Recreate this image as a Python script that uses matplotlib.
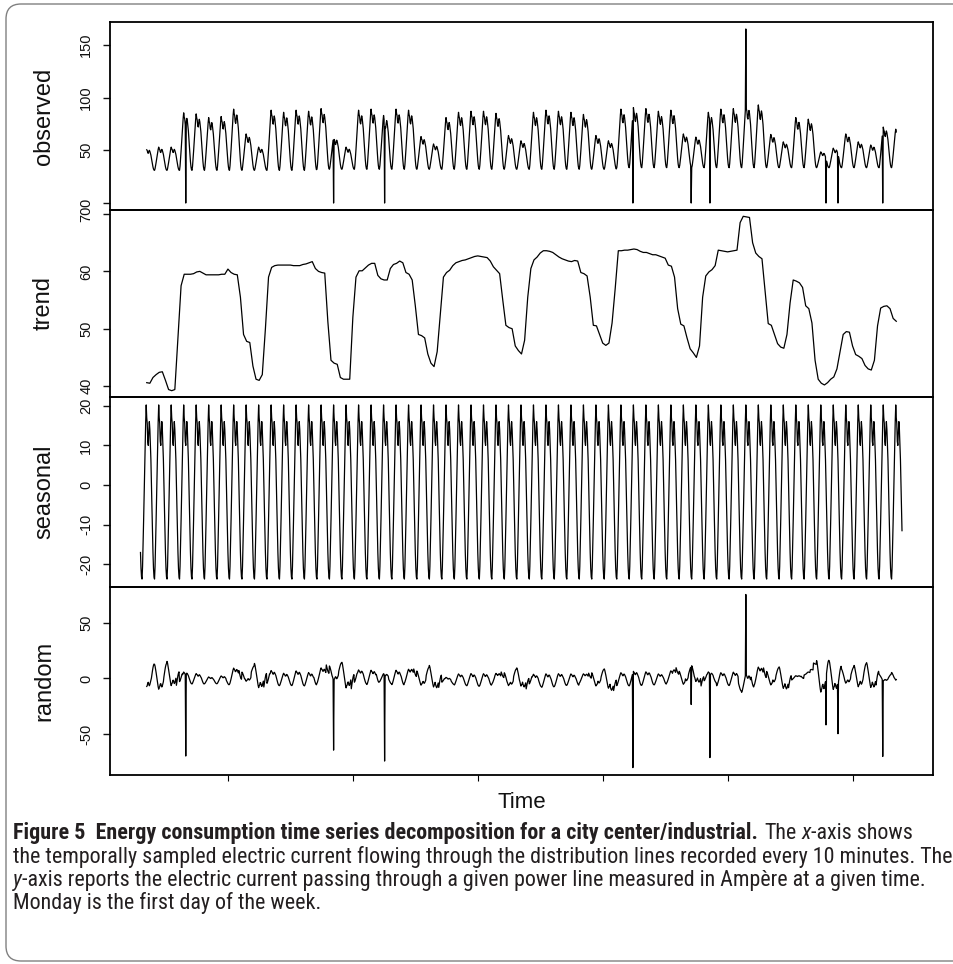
import numpy as np
import matplotlib
matplotlib.use("Agg")
import matplotlib.pyplot as plt
from matplotlib.patches import FancyBboxPatch
from matplotlib.transforms import IdentityTransform
from matplotlib import font_manager as fm

# ------------------------------------------------------------------ data
start_day = 3.0          # first time stamp (days)
n_days = 61              # length of the series in days
per_day = 24             # samples per day used here (hourly)

# daily seasonal profile (hour 0 .. 23)
seasonal_profile = [-17.0, -21.0, -23.2, -23.7, -20.5, -15.0, -9.0, -2.5,
                    4.5, 10.5, 16.0, 20.2, 17.0, 15.5, 11.0, 10.0,
                    13.5, 16.0, 14.0, 10.0, 6.5, 1.0, -5.5, -11.5]

# observed: daily minimum / maximum (day 0 .. 60)
obs_daily_low = [31, 31, 31, 31, 31, 31, 31, 31, 31, 31,
                 31, 31, 31, 31, 32, 32, 32, 32, 32, 32,
                 32, 32, 32, 32, 32, 32, 32, 32, 32, 32,
                 32, 32, 32, 32, 32, 32, 32, 32, 33.5, 33.5,
                 33.5, 33.5, 33.5, 33.5, 33.5, 33.5, 33.5, 33.5, 33.5, 33.5,
                 33.5, 33.5, 33.5, 33.5, 33.5, 33.5, 33.5, 33.5, 33.5, 33.5,
                 33.5]
obs_daily_high = [52, 53, 53, 85.5, 84.5, 81, 82, 89, 65.5, 53,
                  88, 86, 88, 87, 89.5, 62.5, 53, 88, 89, 83,
                  89, 88, 63, 56, 81, 86, 87, 87, 85, 64,
                  59, 86, 88, 87, 86, 84, 64, 59, 89, 90.5,
                  89.5, 87, 88, 65.5, 62.5, 86, 89, 89.5, 93.5, 93,
                  65, 58, 81, 79.5, 48.5, 52, 65.5, 58, 55, 72,
                  70]

# isolated outliers in the observed series (time in days, value)
spike_times = [6.62, 18.46, 22.56, 42.42, 47.10, 48.60, 51.46, 57.86, 58.83, 62.43]
spike_values = [0, 0, 0, 0, 0, 0, 165, 0, 0, 0]

# trend read every 6 hours from t = 3.5
trend_start = 3.5
trend_step = 0.25
trend_values = [
    40.6, 40.5,
    41.5, 42.0, 42.4, 42.5,
    41.0, 39.4, 39.2, 39.4,
    48.5, 57.5, 59.5, 59.5,
    59.5, 59.6, 59.9, 60.0,
    59.7, 59.4, 59.4, 59.4,
    59.4, 59.4, 59.5, 59.5,
    60.4, 59.8, 59.5, 59.4,
    55.5, 49.0, 47.8, 47.6,
    43.5, 41.2, 41.0, 42.0,
    50.0, 59.0, 60.7, 61.0,
    61.1, 61.1, 61.1, 61.1,
    61.1, 61.0, 61.0, 61.0,
    61.2, 61.3, 61.5, 61.7,
    60.5, 60.0, 59.8, 59.7,
    51.2, 44.5, 44.0, 43.8,
    41.5, 41.2, 41.2, 41.2,
    52.0, 59.0, 60.1, 60.1,
    60.6, 61.1, 61.4, 61.4,
    59.3, 58.7, 58.5, 58.5,
    60.5, 61.2, 61.4, 61.8,
    61.5, 59.8, 59.5, 58.5,
    54.0, 49.0, 48.8, 48.4,
    45.6, 44.0, 43.4, 46.0,
    52.5, 59.0, 59.8, 60.2,
    61.0, 61.5, 61.7, 61.9,
    62.0, 62.2, 62.4, 62.6,
    62.7, 62.6, 62.5, 62.4,
    61.8, 60.8, 60.2, 59.6,
    55.0, 50.6, 50.2, 50.0,
    47.0, 46.2, 45.6, 48.0,
    55.5, 60.5, 62.0, 62.5,
    63.2, 63.6, 63.6, 63.5,
    63.3, 62.9, 62.5, 62.2,
    62.0, 61.8, 61.7, 61.9,
    61.8, 59.8, 59.6, 59.2,
    55.5, 50.6, 50.5, 49.0,
    47.5, 47.1, 47.5, 51.0,
    57.0, 63.6, 63.6, 63.7,
    63.7, 63.8, 63.9, 63.8,
    63.5, 63.3, 63.3, 63.1,
    62.9, 62.9, 62.7, 62.5,
    62.3, 61.1, 60.9, 59.0,
    53.5, 50.8, 50.5, 48.4,
    46.5, 45.8, 45.0, 47.0,
    55.5, 59.2, 59.9, 60.3,
    61.0, 63.7, 63.6, 63.5,
    63.4, 63.5, 63.6, 63.7,
    68.5, 69.6, 69.5, 69.4,
    65.0, 63.2, 62.6, 62.2,
    56.5, 50.9, 50.6, 49.0,
    47.4, 46.8, 46.6, 49.0,
    54.5, 58.5, 58.3, 58.0,
    57.2, 54.0, 53.5, 51.0,
    44.5, 41.2, 40.5, 40.2,
    40.6, 41.2, 41.6, 43.0,
    46.0, 49.0, 49.5, 49.4,
    47.0, 45.5, 45.2, 44.8,
    43.6, 43.0, 42.8, 44.5,
    50.5, 53.6, 53.9, 54.0,
    53.5, 51.8, 51.3,
]

panel_names = ["observed", "trend", "seasonal", "random"]
panel_yticks = [[0, 50, 100, 150], [40, 50, 60, 70],
                [-20, -10, 0, 10, 20], [-50, 0, 50]]
panel_ylims = [(-6.6, 171.6), (38.1, 70.7), (-25.7, 22.2), (-86.5, 82.0)]
x_ticks = [10, 20, 30, 40, 50, 60]

caption_bold = "Figure 5  Energy consumption time series decomposition for a city center/industrial."
caption_l1_rest = ["The", "x", "-axis shows"]
caption_l2 = ("the temporally sampled electric current flowing through the distribution "
              "lines recorded every 10 minutes. The")
caption_l3 = ["y", "-axis reports the electric current passing through a given power line "
                   "measured in Ampère at a given time."]
caption_l4 = "Monday is the first day of the week."

# ------------------------------------------------------------ build series
n = n_days * per_day
k = np.arange(n)
t = start_day + k / per_day
prof = np.array(seasonal_profile)
seasonal = prof[k % per_day]
shape = (seasonal - prof.min()) / (prof.max() - prof.min())
lows = np.array(obs_daily_low, dtype=float)
highs = np.array(obs_daily_high, dtype=float)
day_idx = np.clip((k - int(np.argmin(prof))) // per_day, 0, n_days - 1)
observed = lows[day_idx] + (highs[day_idx] - lows[day_idx]) * shape
for ts, v in zip(spike_times, spike_values):
    observed[int(round((ts - start_day) * per_day))] = v

tr = np.array(trend_values)
trend_t = trend_start + trend_step * np.arange(len(tr))
step = int(round(trend_step * per_day))
k0 = int(round((trend_start - start_day) * per_day))
k1 = k0 + (len(tr) - 1) * step
seg = np.arange(k0, k1 + 1)
trend_hold = tr[np.clip((seg - k0 + step // 2) // step, 0, len(tr) - 1)]
random_c = observed[seg] - trend_hold - seasonal[seg]

# ------------------------------------------------------------------ figure
W, H = 954, 964
plt.rcParams["font.family"] = ["Liberation Sans", "DejaVu Sans"]
fig = plt.figure(figsize=(W / 100, H / 100), dpi=100)


def px_rect(x0, y0, x1, y1):
    return [x0 / W, 1 - y1 / H, (x1 - x0) / W, (y1 - y0) / H]


tops = [22, 210, 397, 587, 775]
axes = [fig.add_axes(px_rect(110, tops[i], 933, tops[i + 1])) for i in range(4)]
series = [(t[seg], observed[seg]), (trend_t, tr), (t, seasonal), (t[seg], random_c)]
xlim = (start_day - 0.04 * n_days, start_day + n_days + 0.04 * n_days)

for i, ax in enumerate(axes):
    xs, ys = series[i]
    ax.plot(xs, ys, color="black", lw=0.9)
    ax.set_xlim(*xlim)
    ax.set_ylim(*panel_ylims[i])
    ax.set_yticks(panel_yticks[i], labels=[str(v) for v in panel_yticks[i]],
                  rotation=90, va="center", fontsize=10.5)
    ax.tick_params(axis="y", direction="out", length=5, width=1, pad=7, colors="#111111")
    for sp in ax.spines.values():
        sp.set_linewidth(1.3)
        sp.set_color("black")
    ax.set_facecolor("none")
    if i < 3:
        ax.set_xticks([])
    else:
        ax.set_xticks(x_ticks, labels=[])
        ax.tick_params(axis="x", direction="out", length=4, width=0.8)
    yc = (tops[i] + tops[i + 1]) / 2
    fig.text(44 / W, 1 - yc / H, panel_names[i], rotation=90, ha="center",
             va="center", fontsize=17, color="#111111")

fig.text(521.5 / W, 1 - 803 / H, "Time", ha="center", va="center", fontsize=16,
         color="#111111")

# border of the figure box
border = FancyBboxPatch((6, H - 961), 990, 957,
                        boxstyle="round,pad=0,rounding_size=15",
                        transform=IdentityTransform(), fill=False,
                        ec="#808080", lw=1.0)
fig.add_artist(border)

# ------------------------------------------------------------------ caption
names = {f.name for f in fm.fontManager.ttflist}
cap_family = next((f for f in ["Liberation Sans Narrow", "Roboto Condensed", "Lato", "Roboto"]
                   if f in names), "DejaVu Sans")
renderer = fig.canvas.get_renderer()


def text_width(s, size, weight="normal", style="normal"):
    tt = fig.text(0, 0, s, fontsize=size, family=cap_family, weight=weight, style=style)
    w = tt.get_window_extent(renderer).width
    tt.remove()
    return w


base = 12.0
size = base * 939.0 / text_width(caption_l2, base)
space = text_width("a a", size) - text_width("aa", size)


def draw_pieces(x, y, pieces, sz):
    for s, weight, style, gap in pieces:
        tt = fig.text(x / W, 1 - y / H, s, fontsize=sz, family=cap_family,
                      weight=weight, style=style, ha="left", va="baseline",
                      color="#231f20")
        x += tt.get_window_extent(renderer).width + gap
    return x


l1 = [(caption_bold, "bold", "normal", space),
      (caption_l1_rest[0], "normal", "normal", space),
      (caption_l1_rest[1], "normal", "italic", 0.5),
      (caption_l1_rest[2], "normal", "normal", 0)]
w1 = sum(text_width(s, size, wt, st) + g for s, wt, st, g in l1)
s1 = size * min(1.0, 939.0 / w1)
space1 = text_width("a a", s1) - text_width("aa", s1)
l1 = [(l1[0][0], "bold", "normal", space1 * 1.3),
      (l1[1][0], "normal", "normal", space1),
      (l1[2][0], "normal", "italic", 0.5),
      (l1[3][0], "normal", "normal", 0)]

baselines = [839, 863, 886, 909]
draw_pieces(13, baselines[0], l1, s1)
draw_pieces(13, baselines[1], [(caption_l2, "normal", "normal", 0)], size)
draw_pieces(13, baselines[2], [(caption_l3[0], "normal", "italic", 0.5),
                               (caption_l3[1], "normal", "normal", 0)], size)
draw_pieces(13, baselines[3], [(caption_l4, "normal", "normal", 0)], size)

fig.savefig("out.png", dpi=100)
